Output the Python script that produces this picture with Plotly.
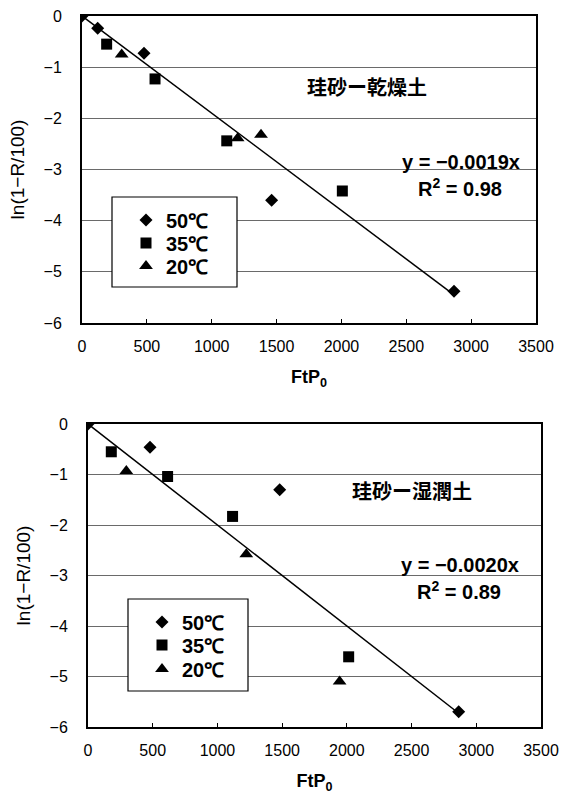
import plotly.graph_objects as go

# ---------------- data ----------------
# Top panel: 珪砂ー乾燥土
dry_50_x = [0, 121, 478, 1462, 2868]
dry_50_y = [0, -0.24, -0.73, -3.60, -5.38]
dry_35_x = [190, 563, 1116, 2007]
dry_35_y = [-0.55, -1.23, -2.44, -3.42]
dry_20_x = [306, 1200, 1380]
dry_20_y = [-0.75, -2.39, -2.32]
dry_slope = -0.0019
dry_r2 = 0.98
dry_label = "珪砂ー乾燥土"

# Bottom panel: 珪砂ー湿潤土
wet_50_x = [0, 479, 1481, 2864]
wet_50_y = [0, -0.46, -1.30, -5.70]
wet_35_x = [180, 615, 1117, 2014]
wet_35_y = [-0.55, -1.04, -1.83, -4.61]
wet_20_x = [296, 1223, 1944]
wet_20_y = [-0.93, -2.58, -5.10]
wet_slope = -0.0020
wet_r2 = 0.89
wet_label = "珪砂ー湿潤土"

series_names = ["50℃", "35℃", "20℃"]
x_ticks = [0, 500, 1000, 1500, 2000, 2500, 3000, 3500]
y_ticks = [0, -1, -2, -3, -4, -5, -6]
x_title = "FtP<sub>0</sub>"
y_title = "ln(1−R/100)"

# ---------------- figure ----------------
# the page body margin is removed (post_script), so the figure fills the window
W, H = 565, 794


def px(x):
    return x / W


def py(y):
    return 1 - y / H


FONT = "Liberation Sans, Arial, sans-serif"
CJK = "Noto Sans CJK JP, sans-serif"
symbols = ["diamond", "square", "triangle-up"]
sizes = [10, 11, 12]

fig = go.Figure()

panels = [
    dict(xs=[dry_50_x, dry_35_x, dry_20_x], ys=[dry_50_y, dry_35_y, dry_20_y],
         slope=dry_slope, r2=dry_r2, label=dry_label, xa="x", ya="y",
         legends=["legend", "legend2", "legend3"],
         lab_pos=(2197, -1.38), eq_pos=(2921, -2.86), r2_pos=(2913, -3.36)),
    dict(xs=[wet_50_x, wet_35_x, wet_20_x], ys=[wet_50_y, wet_35_y, wet_20_y],
         slope=wet_slope, r2=wet_r2, label=wet_label, xa="x2", ya="y2",
         legends=["legend4", "legend5", "legend6"],
         lab_pos=(2501, -1.31), eq_pos=(2876, -2.79), r2_pos=(2867, -3.29)),
]

annotations = []
for p in panels:
    allx = [v for s in p["xs"] for v in s]
    xmax = max(allx)
    fig.add_trace(go.Scatter(
        x=[0, xmax], y=[0, p["slope"] * xmax], mode="lines",
        line=dict(color="black", width=1.5), showlegend=False,
        xaxis=p["xa"], yaxis=p["ya"], hoverinfo="skip"))
    for i in range(3):
        fig.add_trace(go.Scatter(
            x=p["xs"][i], y=p["ys"][i], mode="markers", name=series_names[i],
            marker=dict(symbol=symbols[i], size=sizes[i], color="black"),
            xaxis=p["xa"], yaxis=p["ya"], legend=p["legends"][i]))
    annotations += [
        dict(x=p["lab_pos"][0], y=p["lab_pos"][1], xref=p["xa"], yref=p["ya"],
             text=p["label"], showarrow=False, xanchor="center", yanchor="middle",
             font=dict(family=CJK, size=20, color="black", weight="bold")),
        dict(x=p["eq_pos"][0], y=p["eq_pos"][1], xref=p["xa"], yref=p["ya"],
             text="y = " + f"{p['slope']:.4f}".replace("-", "−") + "x",
             showarrow=False, xanchor="center", yanchor="middle",
             font=dict(family=FONT, size=20, color="black", weight="bold")),
        dict(x=p["r2_pos"][0], y=p["r2_pos"][1], xref=p["xa"], yref=p["ya"],
             text="R<sup>2</sup> = " + f"{p['r2']:.2f}",
             showarrow=False, xanchor="center", yanchor="middle",
             font=dict(family=FONT, size=20, color="black", weight="bold")),
    ]


def xaxis(domain, anchor):
    return dict(domain=domain, anchor=anchor, range=[0, 3500], tickvals=x_ticks,
                automargin=False, ticklabeloverflow="allow",
                showgrid=False, zeroline=False, showline=True, linecolor="black",
                linewidth=2, mirror=True, ticks="inside", ticklen=4, tickcolor="black",
                tickfont=dict(family=FONT, size=16, color="black"),
                ticklabelstandoff=8,
                title=dict(text=x_title,
                           font=dict(family=FONT, size=18, color="black", weight="bold"),
                           standoff=16))


def yaxis(domain, anchor):
    return dict(domain=domain, anchor=anchor, range=[-6, 0], tickvals=y_ticks,
                automargin=False, ticklabeloverflow="allow",
                showgrid=True, gridcolor="#6a6a6a", gridwidth=1,
                zeroline=False, showline=True, linecolor="black",
                linewidth=2, mirror=True, ticks="",
                tickfont=dict(family=FONT, size=16, color="black"),
                ticklabelstandoff=15,
                title=dict(text=y_title,
                           font=dict(family=FONT, size=19, color="black"),
                           standoff=14))


legend_common = dict(bgcolor="rgba(0,0,0,0)", borderwidth=0,
                     font=dict(family=FONT, size=20, color="black", weight="bold"),
                     xanchor="left", yanchor="middle", indentation=14,
                     itemclick=False, itemdoubleclick=False)

# legend boxes (pixel positions in the page) and entry centres
legend_boxes = [(112, 197, 237, 287), (128, 599, 248, 691)]
legend_rows = [[220, 243, 266], [622, 645, 669]]

shapes = []
legends = {}
for b, (x0, y0, x1, y1) in enumerate(legend_boxes):
    shapes.append(dict(type="rect", xref="paper", yref="paper",
                       x0=px(x0), x1=px(x1), y0=py(y1), y1=py(y0),
                       line=dict(color="black", width=1.2), fillcolor="white",
                       layer="above"))
    for i, yc in enumerate(legend_rows[b]):
        name = panels[b]["legends"][i]
        legends[name] = dict(x=px(x0), y=py(yc), **legend_common)

fig.update_layout(
    width=W, height=H,
    margin=dict(l=0, r=0, t=0, b=0),
    paper_bgcolor="white", plot_bgcolor="white",
    xaxis=xaxis([px(82), px(536)], "y"),
    yaxis=yaxis([py(323), py(16)], "x"),
    xaxis2=xaxis([px(88), px(541)], "y2"),
    yaxis2=yaxis([py(727), py(424)], "x2"),
    annotations=annotations,
    shapes=shapes,
    showlegend=True,
    **legends,
)

fig.write_html("out.html",
               config={"displayModeBar": False},
               post_script="document.body.style.margin='0';"
                           "document.body.style.overflow='hidden';")
